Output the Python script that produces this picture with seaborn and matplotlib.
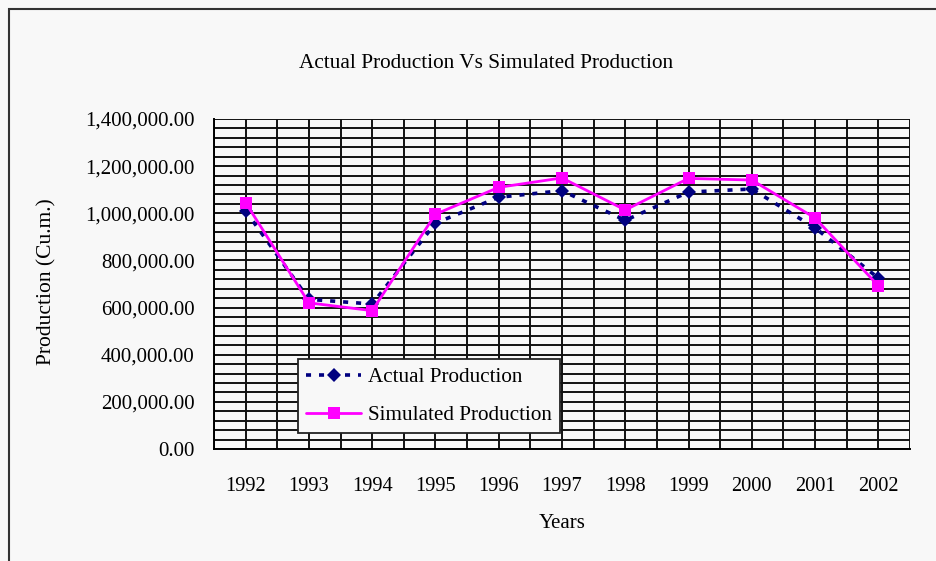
import numpy as np
import pandas as pd
import matplotlib
matplotlib.use("Agg")
import matplotlib.pyplot as plt
import seaborn as sns
from matplotlib.ticker import MultipleLocator, FixedLocator, FuncFormatter, NullFormatter
from matplotlib.lines import Line2D
from matplotlib.patches import Rectangle

years = ["1992", "1993", "1994", "1995", "1996", "1997", "1998", "1999", "2000", "2001", "2002"]
actual = [1010000, 635000, 615000, 958000, 1068000, 1096000, 970000, 1090000, 1103000, 938000, 725000]
simulated = [1045000, 620000, 587000, 996000, 1110000, 1150000, 1014000, 1148000, 1141000, 980000, 692000]
series_names = ["Actual Production", "Simulated Production"]

sns.set_style("white")
plt.rcParams["font.family"] = ["Liberation Serif", "DejaVu Serif"]
plt.rcParams["text.color"] = "black"
plt.rcParams["axes.labelcolor"] = "black"
plt.rcParams["xtick.color"] = "black"
plt.rcParams["ytick.color"] = "black"
bg = "#f8f8f8"

fig = plt.figure(figsize=(9.37, 5.61), dpi=100, facecolor=bg)
ax = fig.add_axes([214/937, 1-449/561, (910-214)/937, (449-119)/561])
ax.set_facecolor(bg)

pos = np.arange(len(years))
df = pd.DataFrame({"pos": pos, "actual": actual, "simulated": simulated})

sns.lineplot(data=df, x="pos", y="actual", ax=ax, color="#000080", linewidth=2.6,
             linestyle=(0, (1.4, 2.2)), marker="D", markersize=7.5,
             markeredgewidth=0, zorder=4)
sns.lineplot(data=df, x="pos", y="simulated", ax=ax, color="#ff00ff", linewidth=2,
             marker="s", markersize=8.5, markeredgewidth=0, zorder=5)

ax.set_xlim(-0.5, len(years) - 0.5)
ax.set_ylim(0, 1400000)

# x axis: ticks at boundaries, labels at centers
ax.xaxis.set_major_locator(FixedLocator(np.arange(-0.5, len(years), 1.0)))
ax.xaxis.set_major_formatter(NullFormatter())
ax.set_xticks(pos, labels=years, minor=True)
ax.tick_params(axis="x", which="major", direction="out", length=7, width=1.3, color="black")
ax.tick_params(axis="x", which="minor", length=0, pad=20, labelsize=14.7, labelcolor="black")

# y axis
ax.yaxis.set_major_locator(MultipleLocator(200000))
ax.yaxis.set_minor_locator(MultipleLocator(40000))
ax.yaxis.set_major_formatter(FuncFormatter(lambda v, p: f"{v:,.2f}"))
ax.tick_params(axis="y", which="major", direction="out", length=7, width=1.3, color="black",
               pad=7, labelsize=15, labelcolor="black")
ax.tick_params(axis="y", which="minor", length=0)

ax.grid(True, which="both", axis="both", color="#111111", linewidth=1.4)
ax.set_axisbelow(True)
for t in ax.xaxis.get_major_ticks():
    if abs(t.get_loc() - (len(years) - 0.5)) < 1e-6 or abs(t.get_loc() + 0.5) < 1e-6:
        t.gridline.set_visible(False)

for s in ["top", "right"]:
    ax.spines[s].set_visible(False)
for s in ["left", "bottom"]:
    ax.spines[s].set_color("black")
    ax.spines[s].set_linewidth(1.4)

ax.set_xlabel("Years", fontsize=15, labelpad=13, color="black")
ax.set_ylabel("")
fig.text(47/937, 1-282/561, "Production (Cu.m.)", rotation=90, ha="center", va="center",
         fontsize=15.5, color="black")
fig.text(486/937, 1-64/561, "Actual Production Vs Simulated Production", ha="center",
         va="center", fontsize=15.3, color="black")

handles = [
    Line2D([], [], color="#000080", linewidth=2.6, linestyle=(0, (1.4, 2.2)), marker="D",
           markersize=7.5, markeredgewidth=0),
    Line2D([], [], color="#ff00ff", linewidth=2, marker="s", markersize=8.5, markeredgewidth=0),
]
leg = ax.legend(handles, series_names, loc="upper left", bbox_to_anchor=(0.1207, 0.2727),
                borderaxespad=0, fontsize=15.2, frameon=True, fancybox=False, framealpha=1,
                facecolor=bg, edgecolor="#222222", handlelength=2.6, labelspacing=0.85,
                borderpad=0.4, handletextpad=0.3)
leg.get_frame().set_linewidth(1.3)
leg.set_zorder(10)
for txt in leg.get_texts():
    txt.set_color("black")

fig.add_artist(Rectangle((9/937, -0.1), 1.2, 1.1 - 9/561, transform=fig.transFigure,
                         fill=False, edgecolor="#333333", linewidth=1.5))

fig.savefig("out.png", dpi=100, facecolor=bg)
